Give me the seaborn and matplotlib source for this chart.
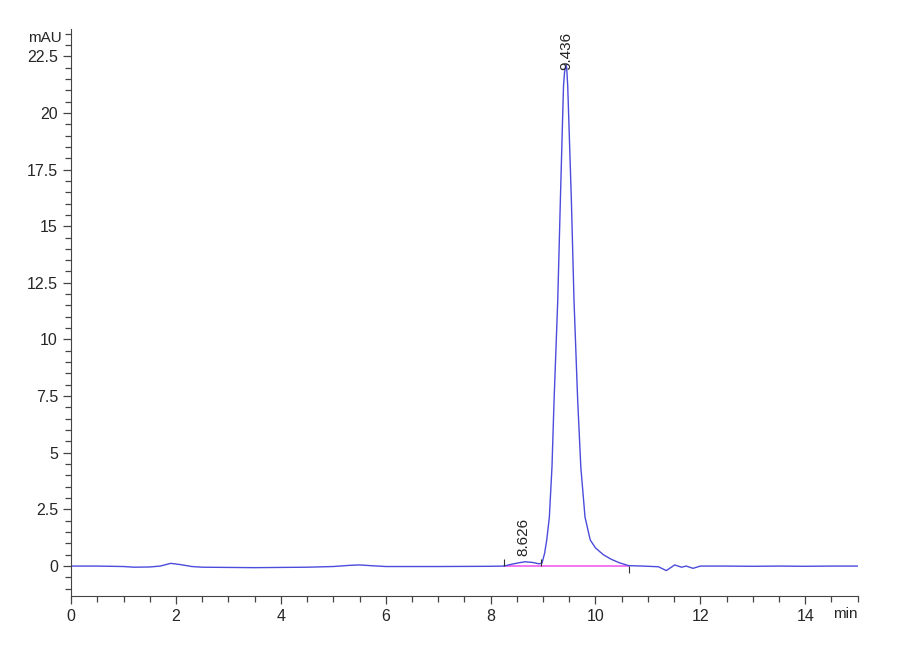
import numpy as np
import pandas as pd
import matplotlib
matplotlib.use('Agg')
import matplotlib.pyplot as plt
from matplotlib.ticker import MultipleLocator
import seaborn as sns

sns.set_style('ticks')
plt.rcParams['font.family'] = ['Liberation Sans', 'DejaVu Sans']

# chromatogram trace (min, mAU)
time_min = [0.0, 0.5, 1.0, 1.2, 1.5, 1.7, 1.9, 2.1, 2.3, 2.5, 3.0, 3.5, 4.0, 4.5,
            5.0, 5.3, 5.5, 5.7, 6.0, 7.0, 8.0, 8.25, 8.4, 8.55, 8.66, 8.8, 8.92,
            8.98, 9.03, 9.07, 9.12, 9.17, 9.21, 9.28, 9.33, 9.39, 9.41, 9.436,
            9.45, 9.47, 9.54, 9.59, 9.66, 9.72, 9.80, 9.90, 10.0, 10.15, 10.3,
            10.45, 10.63, 10.9, 11.2, 11.35, 11.51, 11.64, 11.73, 11.86, 12.0,
            12.5, 13.0, 13.5, 14.0, 14.5, 15.0]
signal_mau = [0.0, 0.0, -0.02, -0.05, -0.04, 0.0, 0.12, 0.06, -0.02, -0.05, -0.06,
              -0.07, -0.06, -0.05, -0.02, 0.03, 0.05, 0.02, -0.02, -0.02, -0.01,
              0.0, 0.08, 0.15, 0.19, 0.16, 0.1, 0.13, 0.57, 1.15, 2.16, 4.37, 7.32,
              11.73, 16.14, 21.2, 21.8, 22.1, 22.0, 21.2, 16.14, 11.73, 7.32, 4.37,
              2.16, 1.15, 0.8, 0.5, 0.3, 0.15, 0.02, 0.0, -0.03, -0.2, 0.05, -0.05,
              0.0, -0.1, 0.0, 0.0, -0.01, 0.0, -0.01, 0.0, 0.0]

# integration events
peak_rt = [8.626, 9.436]
peak_apex = [0.19, 22.1]
label_offset = [0.25, -0.2]
baseline_t = [8.25, 8.97, 10.63]

df = pd.DataFrame({'time': time_min, 'mAU': signal_mau})

fig = plt.figure(figsize=(9, 6.6), dpi=100)
ax = fig.add_axes([0.079, 0.097, 0.874, 0.859])

sns.lineplot(data=df, x='time', y='mAU', ax=ax, color='#4b4bdc', linewidth=1.0)

# integration baseline
ax.plot([baseline_t[0], baseline_t[-1]], [0, 0], color='#f06cf0', linewidth=1.3, zorder=1)
ax.vlines(baseline_t[:2], 0, 0.3, color='#333333', linewidth=0.8)
ax.vlines(baseline_t[2:], -0.3, 0, color='#333333', linewidth=0.8)

for rt, h, off in zip(peak_rt, peak_apex, label_offset):
    ax.text(rt, h + off, f'{rt:.3f}', rotation=90, ha='center', va='bottom',
            fontsize=11, color='#222222')

ax.set_xlim(0, 15)
ax.set_ylim(-1.32, 23.7)
ax.xaxis.set_major_locator(MultipleLocator(2))
ax.xaxis.set_minor_locator(MultipleLocator(0.5))
ax.yaxis.set_major_locator(MultipleLocator(2.5))
ax.yaxis.set_minor_locator(MultipleLocator(0.5))
ax.set_yticks(np.arange(0, 22.6, 2.5))
ax.set_yticklabels([f'{v:g}' for v in np.arange(0, 22.6, 2.5)])
ax.tick_params(which='major', length=6, width=0.9, labelsize=11.5, color='#444444')
ax.tick_params(which='minor', length=4, width=0.9, color='#444444')
for s in ['top', 'right']:
    ax.spines[s].set_visible(False)
for s in ['left', 'bottom']:
    ax.spines[s].set_color('#444444')
ax.set_xlabel('')
ax.set_ylabel('')

ax.text(-0.012, 0.985, 'mAU', transform=ax.transAxes, ha='right', va='center', fontsize=11)
ax.text(1.0, -0.02, 'min', transform=ax.transAxes, ha='right', va='top', fontsize=11)

fig.savefig('out.png', dpi=100)
